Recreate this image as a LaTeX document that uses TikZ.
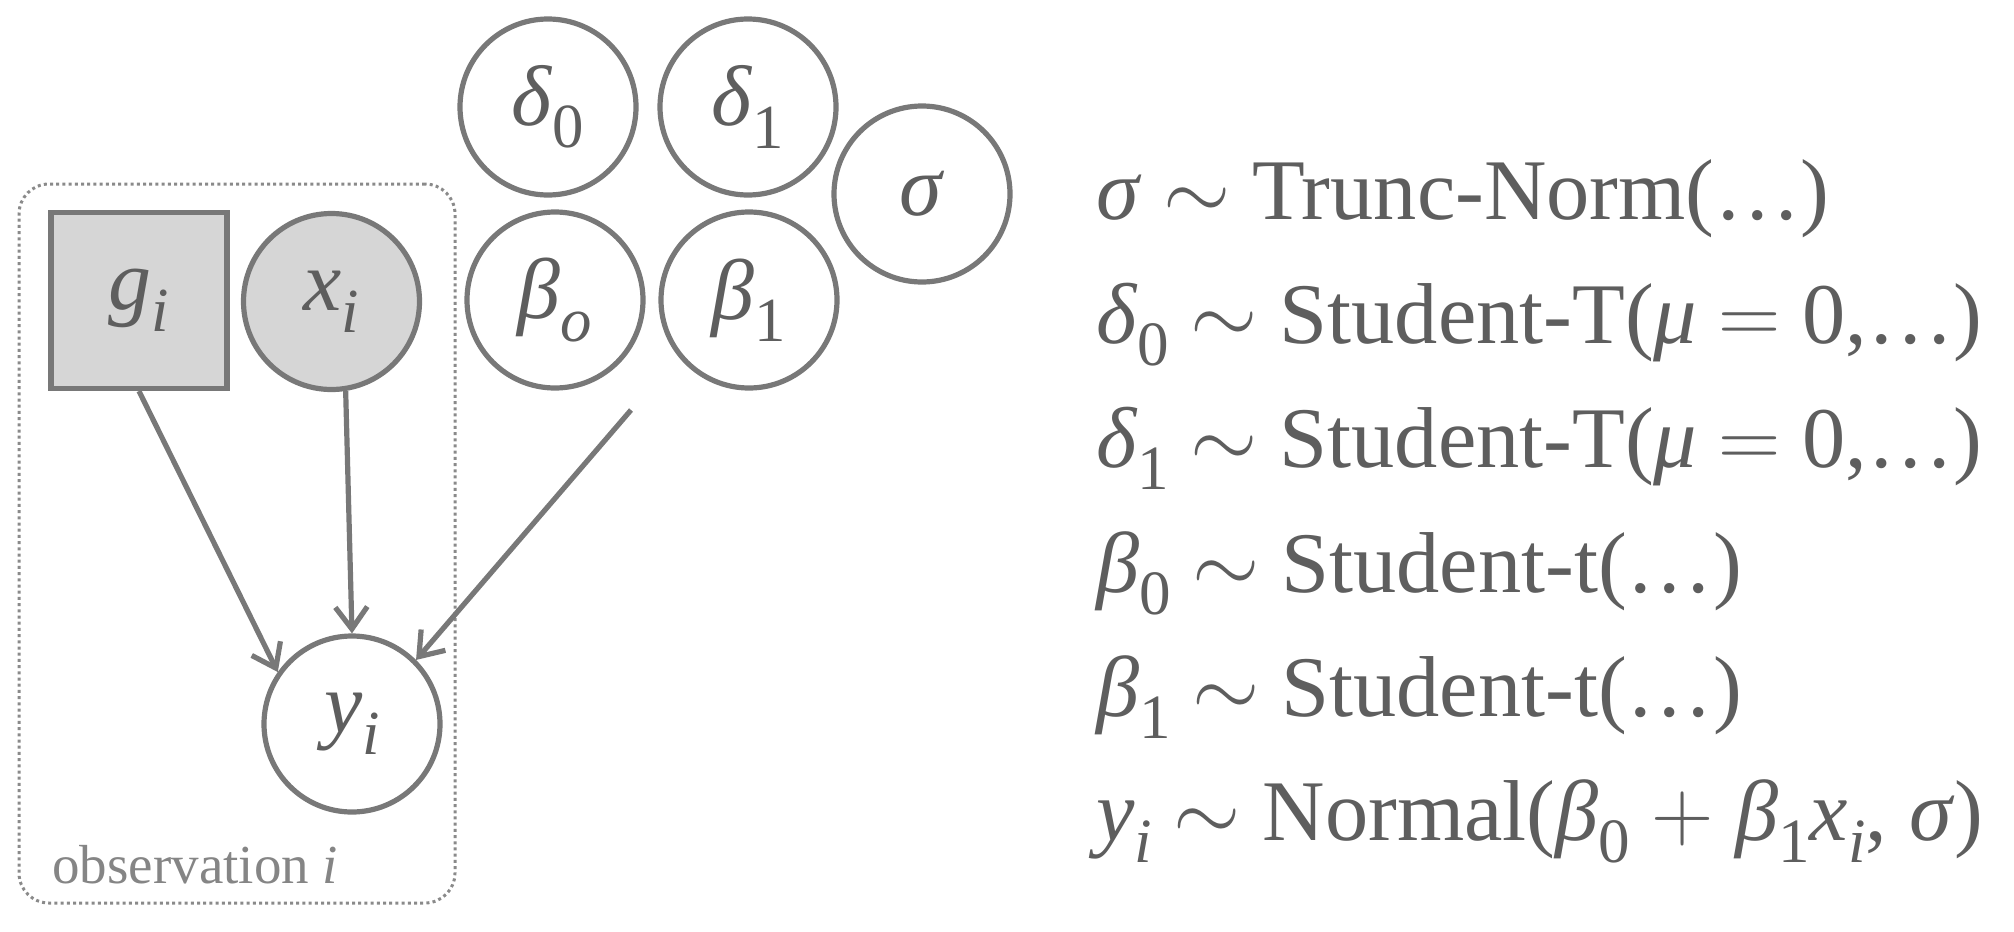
\RequirePackage{fix-cm}
\documentclass[tikz,border=0pt]{standalone}
\usepackage{fontspec}
\setmainfont{Liberation Serif}
\newfontfamily\tms{Liberation Serif}
\usetikzlibrary{arrows.meta}
\definecolor{ink}{HTML}{5E5E5E}
\definecolor{edgec}{HTML}{787878}
\definecolor{shade}{HTML}{D6D6D6}
\definecolor{platec}{HTML}{8A8A8A}
\definecolor{obsc}{HTML}{858585}
\newcommand{\gk}[1]{\textit{#1}}
\newcommand{\lsub}[1]{\raisebox{-0.26em}{\scalebox{0.73}{#1}}}
\tikzset{
  varnode/.style={circle, draw=edgec, line width=2.6pt, minimum size=88pt, inner sep=0pt,
    text=ink, font=\tms\fontsize{43}{48}\selectfont},
  obsnode/.style={varnode, fill=shade},
  sqnode/.style={rectangle, draw=edgec, fill=shade, line width=2.6pt, minimum size=88pt, inner sep=0pt,
    text=ink, font=\tms\fontsize{43}{48}\selectfont},
  platebox/.style={rectangle, draw=platec, line width=1.5pt, dash pattern=on 1.5pt off 1.6pt,
    rounded corners=15pt, minimum width=218pt, minimum height=359.5pt, inner sep=0pt},
  link/.style={draw=edgec, line width=2.6pt, -{Straight Barb[length=11pt,width=16pt]}},
  eqline/.style={anchor=base west, inner sep=0pt, text=ink, font=\tms\fontsize{43.2}{48}\selectfont},
  obslabel/.style={anchor=base west, inner sep=0pt, text=obsc, font=\tms\fontsize{27.5}{32}\selectfont}
}
\begin{document}
\begin{tikzpicture}[x=0.5pt,y=-0.5pt]
\useasboundingbox (0,0) rectangle (2014,932);
% plate
\node[platebox] (plate) at (237,543.5) {};
\node[obslabel] (obs) at (52,883) {observation \gk{i}};
% nodes
\node[varnode] (d0) at (548,107) {\gk{δ}\lsub{0}};
\node[varnode] (d1) at (748,107) {\gk{δ}\lsub{1}};
\node[varnode] (s) at (922,194) {\gk{σ}};
\node[varnode] (b0) at (555,300) {\gk{β}\lsub{\gk{o}}};
\node[varnode] (b1) at (749,300) {\gk{β}\lsub{1}};
\node[sqnode] (g) at (139,300.5) {\gk{g}\lsub{\gk{i}}};
\node[obsnode] (x) at (331.5,301.5) {\gk{x}\lsub{\gk{i}}};
\node[varnode] (y) at (352,724) {\gk{y}\lsub{\gk{i}}};
% edges
\coordinate (bstart) at (631,410);
\draw[link] (g.south) -- (y.145);
\draw[link] (x.-81) -- (y.north);
\draw[link] (bstart) -- (y.45);
% equations
\node[eqline] (e1) at (1096,219) {\gk{σ} $\sim$ Trunc-Norm(…)};
\node[eqline] (e2) at (1096,343) {\gk{δ}\lsub{0} $\sim$ Student-T(\gk{μ} $=$ 0,…)};
\node[eqline] (e3) at (1096,467) {\gk{δ}\lsub{1} $\sim$ Student-T(\gk{μ} $=$ 0,…)};
\node[eqline] (e4) at (1096,592) {\gk{β}\lsub{0} $\sim$ Student-t(…)};
\node[eqline] (e5) at (1096,716) {\gk{β}\lsub{1} $\sim$ Student-t(…)};
\node[eqline] (e6) at (1096,840) {\gk{y}\lsub{\gk{i}} $\sim$ Normal(\gk{β}\lsub{0} $+$ \gk{β}\lsub{1}\gk{x}\lsub{\gk{i}}, \gk{σ})};
\end{tikzpicture}
\end{document}
